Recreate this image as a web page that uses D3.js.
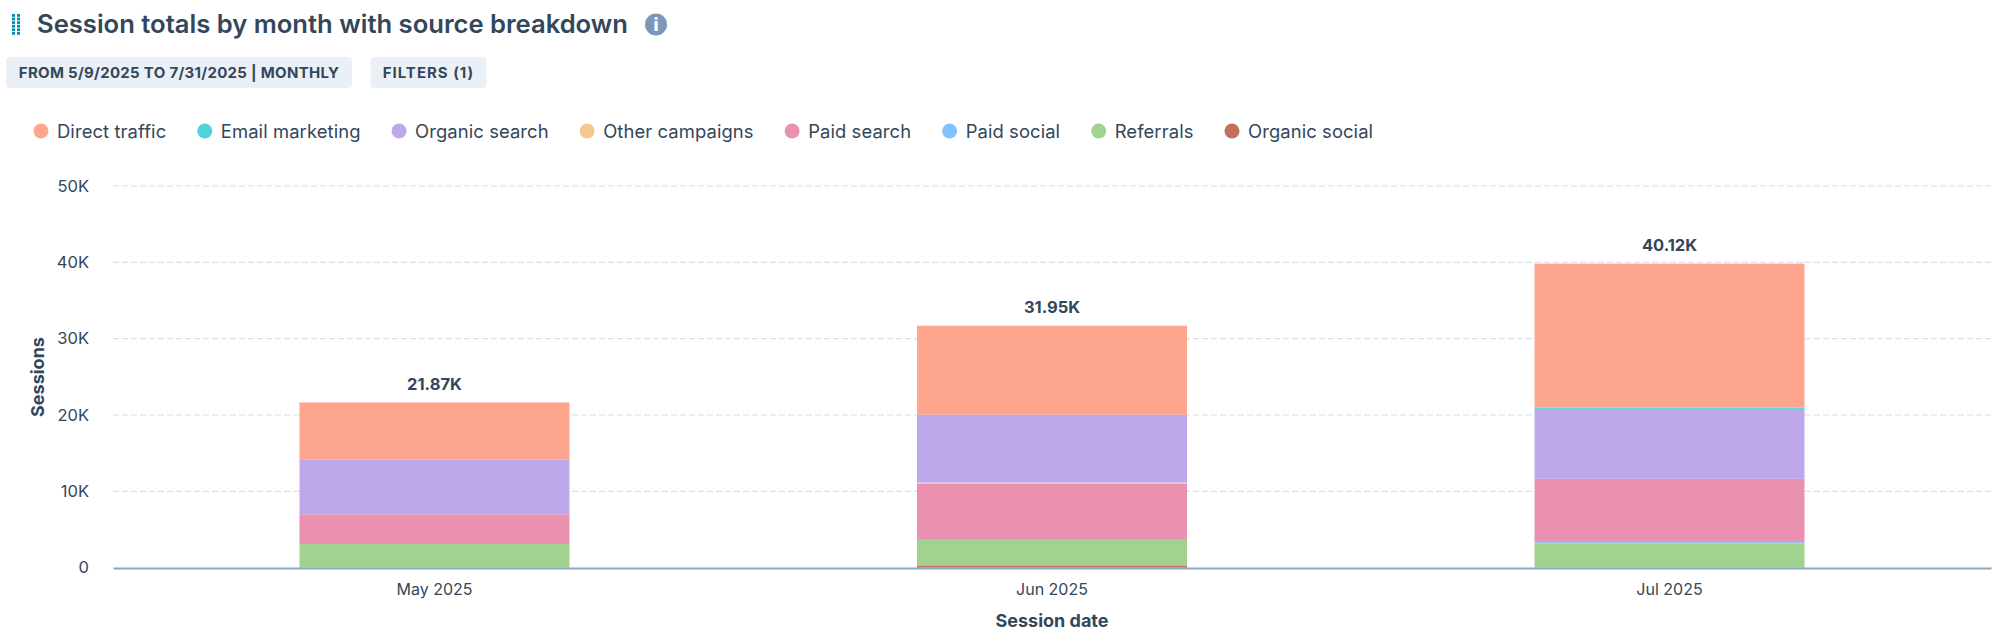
<!DOCTYPE html>
<html>
<head>
<meta charset="utf-8">
<title>Session totals by month</title>
<script src="https://cdn.jsdelivr.net/npm/d3@7"></script>
<style>
  html, body { margin: 0; background: #fff; }
  svg { display: block; }
  text { font-family: Inter, "Noto Sans", sans-serif; fill: #33475b; }
  .grid line { stroke: #d8e0ec; stroke-width: 1.2; stroke-dasharray: 6 3; }
  .tick-label { font-size: 16px; }
  .axis-title { font-size: 18px; font-weight: 700; }
  .total { font-size: 16.5px; font-weight: 700; }
  .pill-text { font-size: 15px; font-weight: 700; }
  .legend-text { font-size: 18.4px; letter-spacing: 0.1px; }
</style>
</head>
<body>
<svg id="chart" width="2000" height="637"></svg>
<script>
// === Data ===
const months = ['May 2025', 'Jun 2025', 'Jul 2025'];
const sources = ['Direct traffic', 'Email marketing', 'Organic search', 'Other campaigns', 'Paid search', 'Paid social', 'Referrals', 'Organic social'];
const totalLabels = ['21.87K', '31.95K', '40.12K'];
const yTicks = [0, 10000, 20000, 30000, 40000, 50000];

// Values per month
const directTraffic = [7450, 11650, 18850];
const emailMarketing = [0, 0, 180];
const organicSearch = [7200, 8900, 9150];
const otherCampaigns = [0, 150, 0];
const paidSearch = [3900, 7350, 8300];
const paidSocial = [0, 0, 200];
const referrals = [3100, 3350, 3150];
const organicSocial = [0, 300, 0];

const palette = ['#fea58e', '#51d3d9', '#bda9ea', '#f5c78e', '#ea90b1', '#81c1fd', '#a2d28f', '#c3705c'];

// bottom-to-top stacking order
const stackOrder = [
    { name: 'Organic social', values: organicSocial },
    { name: 'Referrals', values: referrals },
    { name: 'Paid social', values: paidSocial },
    { name: 'Paid search', values: paidSearch },
    { name: 'Other campaigns', values: otherCampaigns },
    { name: 'Organic search', values: organicSearch },
    { name: 'Email marketing', values: emailMarketing },
    { name: 'Direct traffic', values: directTraffic },
];

const svg = d3.select('#chart');
const color = d3.scaleOrdinal().domain(sources).range(palette);

// === Header ===
const handle = svg.append('g').attr('fill', '#0091ae');
d3.range(2).forEach(col => d3.range(6).forEach(row => {
    handle.append('rect')
        .attr('x', 12 + col * 5).attr('y', 14 + row * 3.6)
        .attr('width', 3).attr('height', 2.8);
}));

svg.append('text').attr('x', 37).attr('y', 33)
    .attr('font-size', 25.6).attr('font-weight', 600)
    .text('Session totals by month with source breakdown');

svg.append('circle').attr('cx', 656).attr('cy', 24.5).attr('r', 11).attr('fill', '#7c98b6');
svg.append('text').attr('x', 656).attr('y', 31).attr('text-anchor', 'middle')
    .attr('font-size', 18).attr('font-weight', 800).style('fill', '#fff').text('i');

const pills = [
    { label: 'FROM 5/9/2025 TO 7/31/2025 | MONTHLY', x: 6, w: 346, spacing: 0.3 },
    { label: 'FILTERS (1)', x: 370.5, w: 116, spacing: 1 },
];
pills.forEach(p => {
    svg.append('rect').attr('x', p.x).attr('y', 57).attr('width', p.w).attr('height', 31)
        .attr('rx', 4).attr('fill', '#eaf0f6');
    svg.append('text').attr('class', 'pill-text')
        .attr('x', p.x + p.w / 2).attr('y', 78).attr('text-anchor', 'middle')
        .style('letter-spacing', p.spacing + 'px').text(p.label);
});

// === Legend ===
let legendX = 33;
sources.forEach(name => {
    const item = svg.append('g').attr('transform', `translate(${legendX},131)`);
    item.append('circle').attr('cx', 8).attr('r', 7.5).attr('fill', color(name));
    const label = item.append('text').attr('class', 'legend-text').attr('x', 24).attr('y', 6.5).text(name);
    legendX += 24 + label.node().getComputedTextLength() + 30.5;
});

// === Scales and axes ===
const x = d3.scaleBand().domain(months).range([113, 1991]).paddingInner(0.5628).paddingOuter(0.302);
const y = d3.scaleLinear().domain([0, 50000]).range([567.7, 186]);

const formatTick = v => v === 0 ? '0' : (v / 1000) + 'K';

svg.append('g').attr('class', 'grid')
    .selectAll('line')
    .data(yTicks.slice(1))
    .join('line')
    .attr('x1', 113).attr('x2', 1991)
    .attr('y1', d => y(d)).attr('y2', d => y(d));

const yAxis = svg.append('g').attr('transform', 'translate(92,0)')
    .call(d3.axisLeft(y).tickValues(yTicks).tickFormat(formatTick).tickSize(0));
yAxis.select('.domain').remove();
yAxis.selectAll('text').attr('class', 'tick-label').style('font-size', '16.5px');

// === Stacked bars ===
const rows = months.map((m, i) => {
    const row = { month: m };
    stackOrder.forEach(s => { row[s.name] = s.values[i]; });
    return row;
});
const stacked = d3.stack().keys(stackOrder.map(s => s.name))(rows);

svg.append('g')
    .selectAll('g')
    .data(stacked)
    .join('g')
    .attr('fill', d => color(d.key))
    .selectAll('rect')
    .data(d => d)
    .join('rect')
    .attr('x', d => x(d.data.month))
    .attr('y', d => y(d[1]))
    .attr('width', x.bandwidth())
    .attr('height', d => y(d[0]) - y(d[1]));

// Totals above the bars
const tops = rows.map(r => d3.sum(stackOrder, s => r[s.name]));
svg.append('g')
    .selectAll('text')
    .data(months)
    .join('text')
    .attr('class', 'total')
    .attr('x', d => x(d) + x.bandwidth() / 2)
    .attr('y', (d, i) => y(tops[i]) - 12.5)
    .attr('text-anchor', 'middle')
    .text((d, i) => totalLabels[i]);

// === X axis ===
const xAxis = svg.append('g').attr('transform', 'translate(0,568)')
    .call(d3.axisBottom(x).tickSize(0).tickPadding(16));
xAxis.select('.domain').attr('stroke', '#8ea5c0').attr('stroke-width', 2);
xAxis.selectAll('text').attr('class', 'tick-label');

// === Axis titles ===
svg.append('text').attr('class', 'axis-title')
    .attr('x', 1052).attr('y', 627).attr('text-anchor', 'middle').text('Session date');
svg.append('text').attr('class', 'axis-title')
    .attr('transform', 'translate(44,377) rotate(-90)')
    .attr('text-anchor', 'middle').text('Sessions');
</script>
</body>
</html>
